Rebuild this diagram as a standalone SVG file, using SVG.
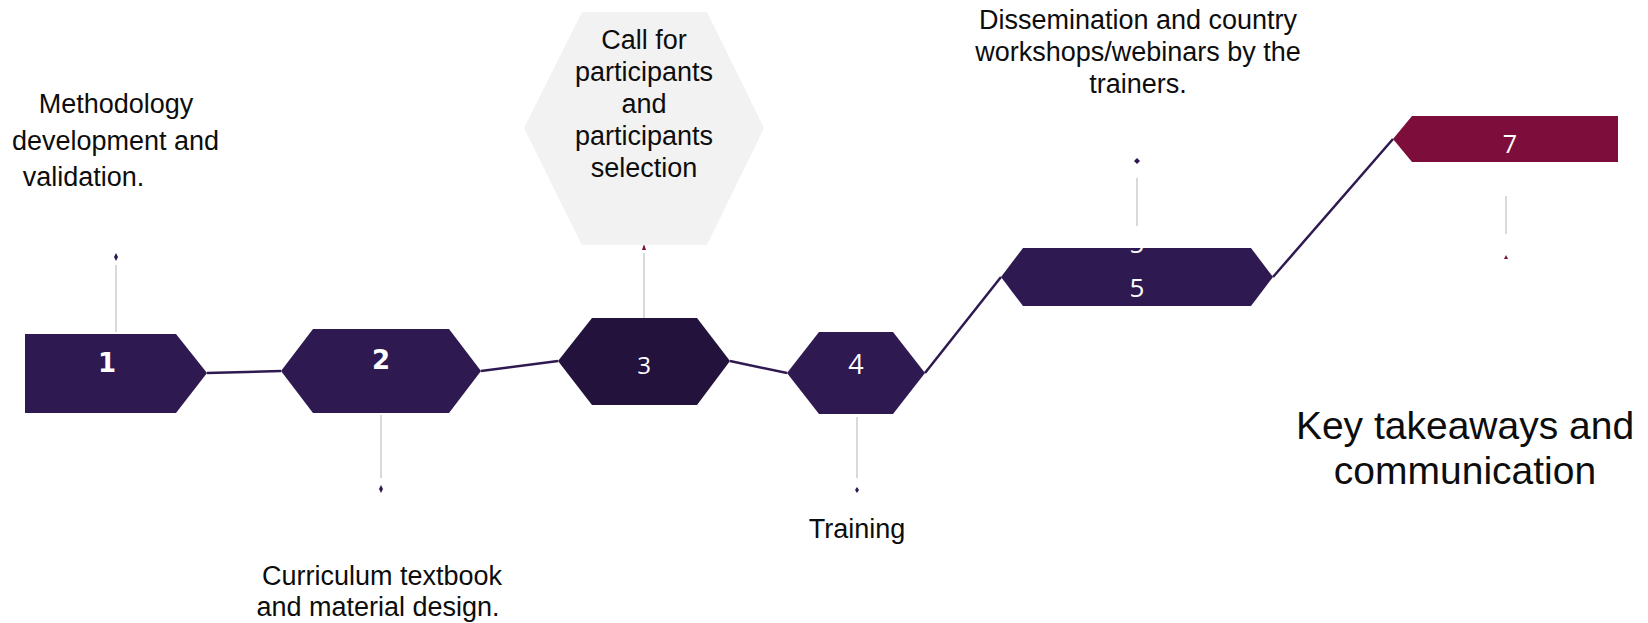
<svg xmlns="http://www.w3.org/2000/svg" width="1648" height="623" viewBox="0 0 1648 623">
<style>
.bg{fill:#ffffff}
.node{fill:#2e1950}
.dark{fill:#22123c}
.mar{fill:#7d0e3c}
.callout{fill:#f2f2f2}
.conn{stroke:#2e1950;stroke-width:2.5;fill:none}
.stem{stroke:#d9d9d9;stroke-width:2;fill:none}
.lbl{font-family:"Liberation Sans",Arial,sans-serif;font-size:27px;fill:#0d0d0d;text-anchor:middle}
.big{font-size:39px}
.num{font-family:"Open Sans","Liberation Sans",sans-serif;font-size:25px;fill:#ffffff;text-anchor:middle}
.numb{font-family:"DejaVu Sans","Liberation Sans",sans-serif;font-weight:bold;font-size:26px;fill:#ffffff;text-anchor:middle}
.dotp{fill:#2e1950}
.dotm{fill:#7d0e3c}
</style>
<rect class="bg" x="0" y="0" width="1648" height="623"/>
<g id="connectors">
<line class="conn" x1="207" y1="373" x2="281" y2="371"/>
<line class="conn" x1="481" y1="371" x2="558" y2="361"/>
<line class="conn" x1="730" y1="361" x2="787" y2="373"/>
<line class="conn" x1="925" y1="373" x2="1001" y2="277"/>
<line class="conn" x1="1273" y1="277" x2="1393" y2="139"/>
</g>
<g id="stems">
<line class="stem" x1="116" y1="265" x2="116" y2="332"/>
<path class="dotp" d="M116 253 L118 257 L116 261 L114 257 Z"/>
<line class="stem" x1="381" y1="415" x2="381" y2="478"/>
<path class="dotp" d="M381 485 L383 489 L381 493 L379 489 Z"/>
<line class="stem" x1="644" y1="253" x2="644" y2="322"/>
<path fill="#ffffff" d="M644 233 L647 250 L641 250 Z"/>
<path class="dotm" d="M644 244 L646 250 L642 250 Z"/>
<line class="stem" x1="857" y1="417" x2="857" y2="478"/>
<path class="dotp" d="M857 487 L859 490 L857 493 L855 490 Z"/>
<line class="stem" x1="1137" y1="178" x2="1137" y2="226"/>
<path class="dotp" d="M1137 158 L1140 161 L1137 164 L1134 161 Z"/>
<line class="stem" x1="1506" y1="196" x2="1506" y2="234"/>
<path class="dotm" d="M1506 255 L1508 259 L1504 259 Z"/>
</g>
<g id="node1">
<polygon class="node" points="25,334 176,334 207,373 176,413 25,413"/>
<text class="numb" x="107" y="372">1</text>
<text class="lbl"><tspan x="116" y="113">Methodology</tspan><tspan x="115.5" y="150">development and</tspan><tspan x="83.5" y="186">validation.</tspan></text>
</g>
<g id="node2">
<polygon class="node" points="281,371 313,329 449,329 481,371 449,413 313,413"/>
<text class="numb" x="381" y="369">2</text>
<text class="lbl"><tspan x="382" y="585">Curriculum textbook</tspan><tspan x="378" y="616">and material design.</tspan></text>
</g>
<g id="node3">
<polygon class="callout" points="582,12 707,12 764,128 707,245 582,245 524,128"/>
<text class="lbl"><tspan x="644" y="49">Call for</tspan><tspan x="644" y="81">participants</tspan><tspan x="644" y="113">and</tspan><tspan x="644" y="145">participants</tspan><tspan x="644" y="177">selection</tspan></text>
<polygon class="dark" points="558,361 592,318 697,318 730,361 697,405 592,405"/>
<text class="num" x="644" y="374" style="font-size:24px">3</text>
</g>
<g id="node4">
<polygon class="node" points="787,373 819,332 893,332 925,373 893,414 819,414"/>
<text class="num" x="856" y="374" style="font-size:27px">4</text>
<text class="lbl" x="857" y="538">Training</text>
</g>
<g id="node5">
<polygon class="node" points="1001,277 1023,248 1251,248 1273,277 1251,306 1023,306"/>
<text class="num" x="1137" y="253" style="font-size:26px">5</text>
<text class="num" x="1137" y="297" style="font-size:26px">5</text>
<text class="lbl"><tspan x="1138" y="29">Dissemination and country</tspan><tspan x="1138" y="61">workshops/webinars by the</tspan><tspan x="1138" y="93">trainers.</tspan></text>
</g>
<g id="node7">
<polygon class="mar" points="1393,139 1412,116 1618,116 1618,162 1412,162"/>
<text class="num" x="1510" y="153">7</text>
<text class="lbl big"><tspan x="1465" y="439">Key takeaways and</tspan><tspan x="1465" y="484">communication</tspan></text>
</g>
</svg>
